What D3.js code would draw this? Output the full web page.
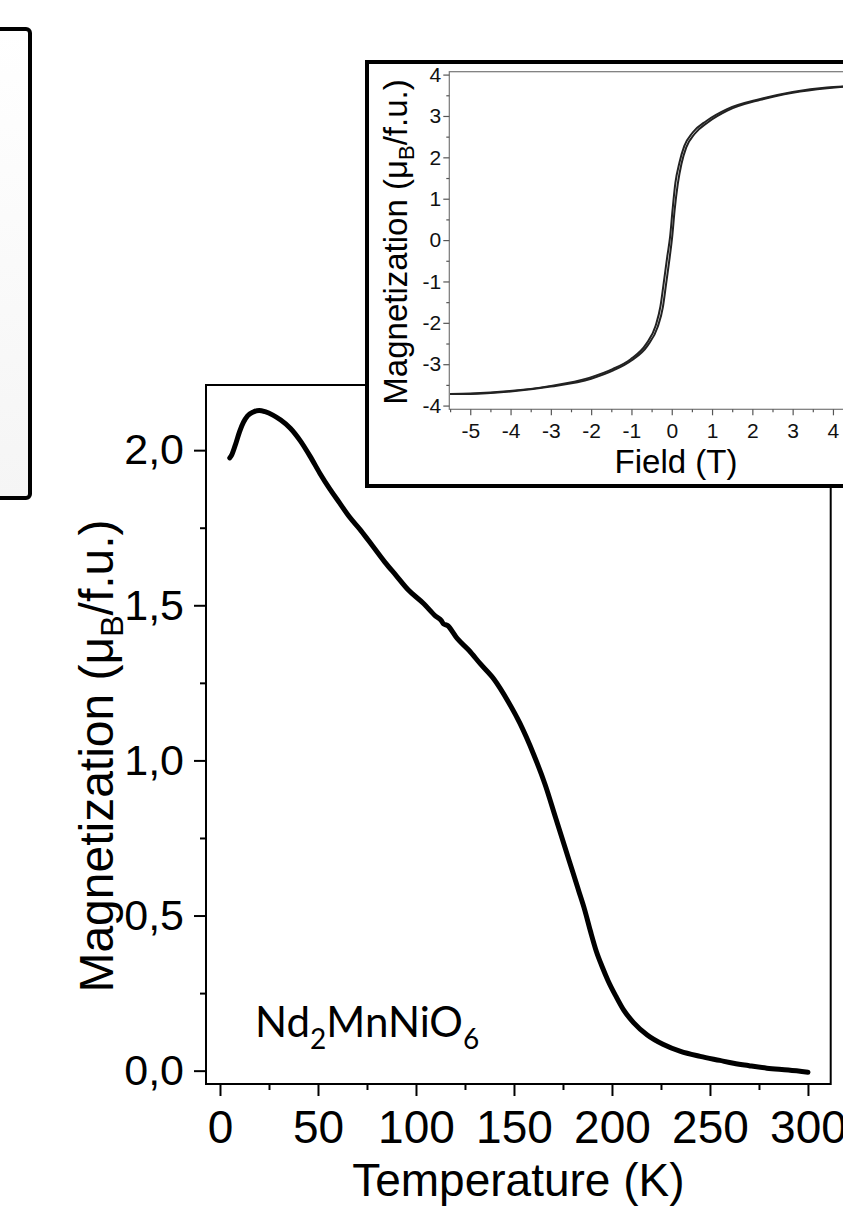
<!DOCTYPE html>
<html>
<head>
<meta charset="utf-8">
<script src="https://cdn.jsdelivr.net/npm/d3@7"></script>
<style>
  html, body { margin: 0; padding: 0; background: #fff; }
  svg { display: block; font-family: "Liberation Sans", Arial, sans-serif; }
</style>
</head>
<body>
<svg id="chart" width="843" height="1206"></svg>
<script>
// main panel: M(T)
const temperature = [5, 6, 8, 10, 12, 14, 17, 20, 23, 27, 31, 36, 41, 46, 51, 56, 61, 66, 72, 78, 84, 90, 96, 104, 110, 113, 114, 116, 121, 127, 133, 140, 147, 153, 160, 166, 171, 176, 180, 183, 186, 189, 192, 195, 198, 202, 206, 211, 218, 226, 235, 245, 255, 262, 270, 279, 290, 300];
const magnetization = [1.975, 1.985, 2.02, 2.06, 2.09, 2.11, 2.123, 2.128, 2.124, 2.113, 2.097, 2.07, 2.03, 1.98, 1.925, 1.875, 1.83, 1.785, 1.74, 1.69, 1.64, 1.595, 1.55, 1.505, 1.465, 1.45, 1.44, 1.435, 1.393, 1.355, 1.31, 1.26, 1.19, 1.12, 1.02, 0.92, 0.82, 0.72, 0.64, 0.58, 0.52, 0.45, 0.385, 0.335, 0.29, 0.24, 0.195, 0.155, 0.115, 0.085, 0.062, 0.046, 0.033, 0.024, 0.016, 0.008, 0.002, -0.005];
const tempTicks = [0, 50, 100, 150, 200, 250, 300];
const tempMinor = [25, 75, 125, 175, 225, 275];
const magTicks = [0, 0.5, 1, 1.5, 2];
const magMinor = [0.25, 0.75, 1.25, 1.75];

// inset: M(H) loop, both branches listed with rising field
const fieldUp = [-5.5, -5, -4, -3, -2, -1.45, -1, -0.6, -0.35, -0.22, -0.14, -0.05, 0.01, 0.07, 0.15, 0.24, 0.36, 0.57, 0.9, 1.38, 2.2, 3.0, 3.85, 4.5, 5.0, 5.5];
const momentUp = [-3.72, -3.72, -3.66, -3.54, -3.35, -3.15, -2.91, -2.55, -2.10, -1.62, -1.06, -0.41, 0.07, 0.71, 1.36, 1.84, 2.24, 2.57, 2.85, 3.13, 3.39, 3.56, 3.67, 3.72, 3.74, 3.75];
const fieldDown = [-5.5, -5, -4.02, -3.04, -2.05, -1.47, -1.02, -0.64, -0.4, -0.28, -0.2, -0.11, -0.04, 0.02, 0.09, 0.19, 0.31, 0.52, 0.86, 1.36, 2.2, 3.0, 3.85, 4.5, 5, 5.5];
const momentDown = [-3.72, -3.71, -3.65, -3.53, -3.33, -3.12, -2.88, -2.52, -2.07, -1.6, -1.04, -0.39, 0.09, 0.73, 1.38, 1.87, 2.27, 2.6, 2.88, 3.16, 3.41, 3.58, 3.69, 3.72, 3.74, 3.75];
const fieldTicks = [-5, -4, -3, -2, -1, 0, 1, 2, 3, 4];
const fieldMinor = [-5.5, -4.5, -3.5, -2.5, -1.5, -0.5, 0.5, 1.5, 2.5, 3.5, 4.5];
const momentTicks = [-4, -3, -2, -1, 0, 1, 2, 3, 4];
const momentMinor = [-3.5, -2.5, -1.5, -0.5, 0.5, 1.5, 2.5, 3.5];

const svg = d3.select("#chart");
const comma = (d) => d3.format(".1f")(d).replace(".", ",");
const hyphen = (d) => String(d);

// left panel fragment
const grad = svg.append("defs").append("linearGradient")
  .attr("id", "fade").attr("x1", 0).attr("y1", 0).attr("x2", 0).attr("y2", 1);
grad.append("stop").attr("offset", 0).attr("stop-color", "#ffffff");
grad.append("stop").attr("offset", 1).attr("stop-color", "#f5f5f5");
svg.append("rect")
  .attr("x", -20).attr("y", 29).attr("width", 50).attr("height", 469)
  .attr("rx", 4)
  .attr("fill", "url(#fade)").attr("stroke", "#000").attr("stroke-width", 4);

// main panel
const x = d3.scaleLinear().domain([-7.14, 311.6]).range([206, 830.7]);
const y = d3.scaleLinear().domain([-0.043, 2.21]).range([1084, 385]);

const main = svg.append("g");

main.append("rect")
  .attr("x", x.range()[0]).attr("y", y.range()[1])
  .attr("width", x.range()[1] - x.range()[0])
  .attr("height", y.range()[0] - y.range()[1])
  .attr("fill", "none").attr("stroke", "#000").attr("stroke-width", 2);

const styleAxis = (g, size) => {
  g.select(".domain").remove();
  g.selectAll(".tick line").attr("stroke", "#000").attr("stroke-width", 2);
  g.selectAll(".tick text").attr("fill", "#000").style("font-size", size + "px");
};

main.append("g")
  .attr("transform", `translate(0,${y.range()[0]})`)
  .call(d3.axisBottom(x).tickValues(tempTicks).tickSize(12).tickPadding(14))
  .call((g) => styleAxis(g, 46));
main.append("g")
  .attr("transform", `translate(0,${y.range()[0]})`)
  .call(d3.axisBottom(x).tickValues(tempMinor).tickSize(6).tickFormat(""))
  .call((g) => styleAxis(g, 46));
main.append("g")
  .attr("transform", `translate(${x.range()[0]},0)`)
  .call(d3.axisLeft(y).tickValues(magTicks).tickSize(12).tickPadding(10).tickFormat(comma))
  .call((g) => styleAxis(g, 43));
main.append("g")
  .attr("transform", `translate(${x.range()[0]},0)`)
  .call(d3.axisLeft(y).tickValues(magMinor).tickSize(6).tickFormat(""))
  .call((g) => styleAxis(g, 43));

main.append("path")
  .datum(d3.zip(temperature, magnetization))
  .attr("fill", "none").attr("stroke", "#000").attr("stroke-width", 5)
  .attr("stroke-linejoin", "round").attr("stroke-linecap", "round")
  .attr("d", d3.line().x((d) => x(d[0])).y((d) => y(d[1])).curve(d3.curveMonotoneX));

main.append("text")
  .attr("x", (x.range()[0] + x.range()[1]) / 2).attr("y", 1196)
  .attr("text-anchor", "middle").style("font-size", "46px")
  .text("Temperature (K)");

const ylab = main.append("text")
  .attr("transform", "translate(113,756) rotate(-90)")
  .attr("text-anchor", "middle").style("font-size", "48px");
ylab.append("tspan").text("Magnetization (\u03bc");
ylab.append("tspan").attr("dy", 10).style("font-size", "32px").text("B");
ylab.append("tspan").attr("dy", -10).text("/f.u.)");

const formula = main.append("text")
  .attr("x", 255).attr("y", 1037)
  .style("font-family", "Lato, 'Open Sans', sans-serif").style("font-size", "42px");
[["Nd", 0], ["2", 1], ["MnNiO", 0], ["6", 1]].forEach(([s, sub], i, arr) => {
  const prev = i > 0 ? arr[i - 1][1] : 0;
  formula.append("tspan")
    .attr("dy", (sub - prev) * 12)
    .style("font-size", sub ? "28px" : "42px")
    .text(s);
});

// inset
const inset = svg.append("g");
inset.append("rect")
  .attr("x", 367).attr("y", 62).attr("width", 560).attr("height", 424)
  .attr("fill", "#fff").attr("stroke", "#000").attr("stroke-width", 4);

const xi = d3.scaleLinear().domain([-5.52, 5.52]).range([449.3, 894.2]);
const yi = d3.scaleLinear().domain([-4.09, 4.07]).range([409.3, 71.7]);

inset.append("rect")
  .attr("x", xi.range()[0]).attr("y", yi.range()[1])
  .attr("width", xi.range()[1] - xi.range()[0])
  .attr("height", yi.range()[0] - yi.range()[1])
  .attr("fill", "none").attr("stroke", "#777").attr("stroke-width", 1.2);

const styleInset = (g) => {
  g.select(".domain").remove();
  g.selectAll(".tick line").attr("stroke", "#555").attr("stroke-width", 1.2);
  g.selectAll(".tick text").attr("fill", "#111").style("font-size", "21px");
};

inset.append("g")
  .attr("transform", `translate(0,${yi.range()[0]})`)
  .call(d3.axisBottom(xi).tickValues(fieldTicks).tickSize(6).tickPadding(8).tickFormat(hyphen))
  .call(styleInset);
inset.append("g")
  .attr("transform", `translate(0,${yi.range()[0]})`)
  .call(d3.axisBottom(xi).tickValues(fieldMinor).tickSize(3).tickFormat(""))
  .call(styleInset);
inset.append("g")
  .attr("transform", `translate(${xi.range()[0]},0)`)
  .call(d3.axisLeft(yi).tickValues(momentTicks).tickSize(6).tickPadding(2).tickFormat(hyphen))
  .call(styleInset);
inset.append("g")
  .attr("transform", `translate(${xi.range()[0]},0)`)
  .call(d3.axisLeft(yi).tickValues(momentMinor).tickSize(3).tickFormat(""))
  .call(styleInset);

const loopLine = d3.line().x((d) => xi(d[0])).y((d) => yi(d[1])).curve(d3.curveMonotoneX);
[[fieldUp, momentUp], [fieldDown, momentDown]].forEach(([f, m]) => {
  inset.append("path")
    .datum(d3.zip(f, m))
    .attr("fill", "none").attr("stroke", "#222").attr("stroke-width", 2)
    .attr("d", loopLine);
});

inset.append("text")
  .attr("x", 676).attr("y", 472.7)
  .attr("text-anchor", "middle").style("font-size", "33px")
  .text("Field (T)");

const ilab = inset.append("text")
  .attr("transform", "translate(407,242) rotate(-90)")
  .attr("text-anchor", "middle").style("font-size", "33px");
ilab.append("tspan").text("Magnetization (\u03bc");
ilab.append("tspan").attr("dy", 7).style("font-size", "22px").text("B");
ilab.append("tspan").attr("dy", -7).text("/f.u.)");
</script>
</body>
</html>
